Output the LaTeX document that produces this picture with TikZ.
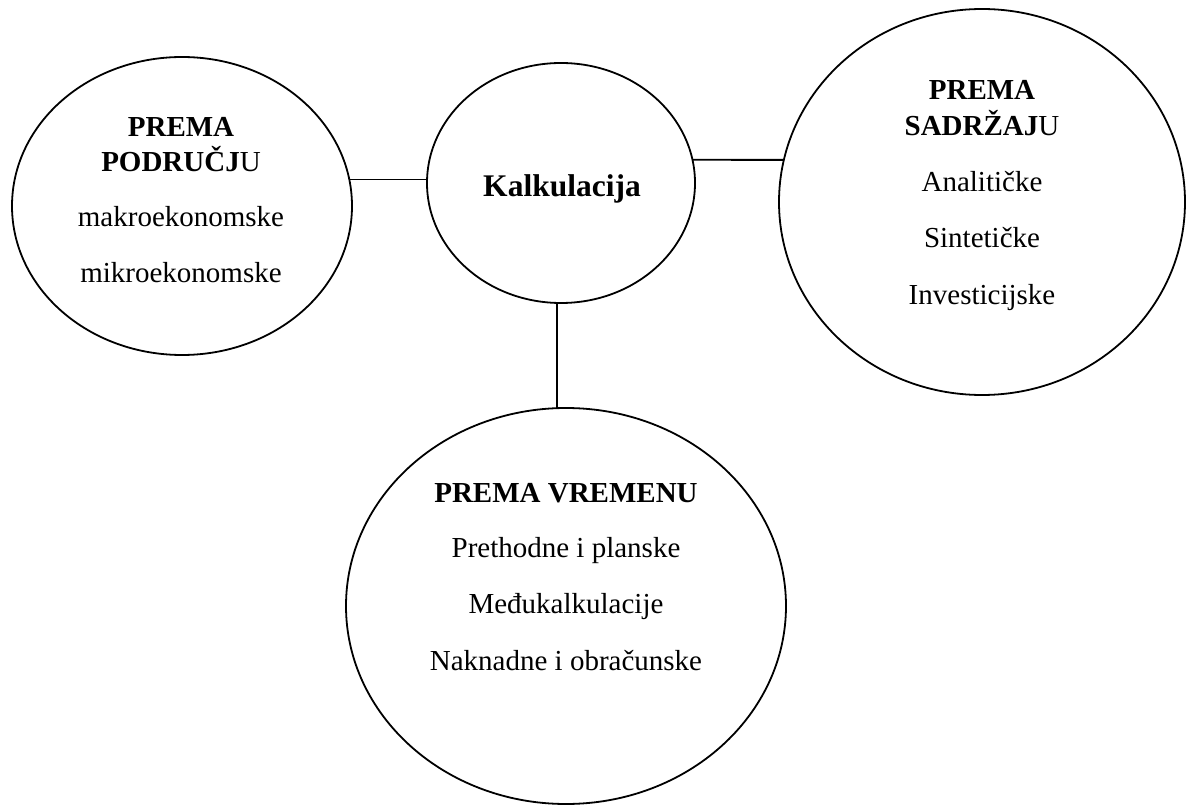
\documentclass[tikz,border=0pt]{standalone}
\usepackage{fontspec}
\setmainfont{Liberation Serif}
\usetikzlibrary{shapes.geometric}
\begin{document}
\begin{tikzpicture}[x=1pt,y=-1pt,
  bubble/.style={draw, ellipse, line width=1.8pt, inner sep=0pt, outer sep=0pt},
  txt/.style={anchor=base, inner sep=0pt, font=\fontsize{29}{35}\selectfont},
  hd/.style={anchor=base, inner sep=0pt, font=\fontsize{29}{35}\selectfont\bfseries},
  link/.style={line width=1.8pt}]
\useasboundingbox (0,0) rectangle (1187,805);

\node[bubble, minimum width=340pt, minimum height=298pt] (l) at (182,206) {};
\node[bubble, minimum width=268pt, minimum height=240pt] (c) at (561,183) {};
\node[bubble, minimum width=406pt, minimum height=386pt] (r) at (982,202) {};
\node[bubble, minimum width=440pt, minimum height=396pt] (b) at (566,606) {};

\draw[link] (l.9) -- (l.9 -| c.west);
\draw[link] (c.10) -- (r.168);
\draw[link] (c.-92) -- (c.-92 |- b.north);

\node[hd] (l1) at (181,137) {PREMA};
\node[hd] (l2) at (181,172) {PODRUČJ\textmd{U}};
\node[txt] (l3) at (181,227) {makroekonomske};
\node[txt] (l4) at (181,283) {mikroekonomske};

\node[hd, font=\fontsize{31.5}{38}\selectfont\bfseries] (c1) at (562,197) {Kalkulacija};

\node[hd] (r1) at (982,100) {PREMA};
\node[hd] (r2) at (982,136) {SADRŽAJ\textmd{U}};
\node[txt] (r3) at (982,192) {Analitičke};
\node[txt] (r4) at (982,248) {Sintetičke};
\node[txt] (r5) at (982,305) {Investicijske};

\node[hd] (b1) at (566,502) {PREMA VREMENU};
\node[txt] (b2) at (566,557) {Prethodne i planske};
\node[txt] (b3) at (566,613) {Međukalkulacije};
\node[txt] (b4) at (566,670) {Naknadne i obračunske};
\end{tikzpicture}
\end{document}
